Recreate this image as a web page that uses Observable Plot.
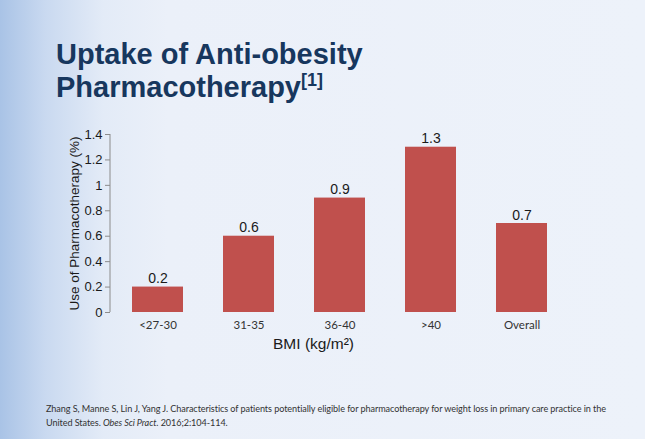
<!DOCTYPE html>
<html>
<head>
<meta charset="utf-8">
<script src="https://cdn.jsdelivr.net/npm/d3@7"></script>
<script src="https://cdn.jsdelivr.net/npm/@observablehq/plot@0.6"></script>
<style>
  html, body { margin: 0; padding: 0; }
  #page {
    position: relative; width: 645px; height: 439px; overflow: hidden;
    background: linear-gradient(to right, #a9c3e6 0%, #c9d9f0 7%, #e3ebf7 16%, #ebf0f9 26%, #edf2fa 100%);
    font-family: "Liberation Sans", Arial, sans-serif;
  }
  #title {
    position: absolute; left: 56px; top: 38px; margin: 0;
    font-size: 29px; font-weight: bold; line-height: 33px; color: #17375e;
  }
  #title sup { font-size: 18px; vertical-align: 11px; line-height: 0; }
  #chart { position: absolute; left: 0; top: 120px; }
  #caption {
    position: absolute; left: 46px; top: 402px; width: 590px;
    font-family: Lato, "Open Sans", sans-serif; font-size: 9.1px; line-height: 14px; color: #333;
    letter-spacing: -0.08px;
  }
  #caption div { white-space: nowrap; }
</style>
</head>
<body>
<div id="page">
  <h1 id="title">Uptake of Anti-obesity<br>Pharmacotherapy<sup>[1]</sup></h1>
  <div id="chart"></div>
  <div id="caption">
    <div>Zhang S, Manne S, Lin J, Yang J. Characteristics of patients potentially eligible for pharmacotherapy for weight loss in primary care practice in the</div>
    <div>United States. <i>Obes Sci Pract</i>. 2016;2:104-114.</div>
  </div>
</div>
<script>
const categories = ["<27-30", "31-35", "36-40", ">40", "Overall"];
const values = [0.2, 0.6, 0.9, 1.3, 0.7];
const yTicks = [0, 0.2, 0.4, 0.6, 0.8, 1, 1.2, 1.4];
const xLabel = "BMI (kg/m²)";
const yLabel = "Use of Pharmacotherapy (%)";

const data = categories.map((c, i) => ({category: c, value: values[i]}));

const chart = Plot.plot({
  width: 645,
  height: 240,
  marginLeft: 110,
  marginRight: 77,
  marginTop: 14,
  marginBottom: 48,
  style: {background: "transparent", overflow: "visible"},
  x: {domain: categories, paddingInner: 0.44, paddingOuter: 0.22, label: null},
  y: {domain: [0, 1.4], label: null},
  marks: [
    Plot.barY(data, {x: "category", y: "value", fill: "#c0504d"}),
    Plot.text(data, {x: "category", y: "value", text: d => String(d.value), lineAnchor: "bottom", dy: -4,
      fontSize: 14, fill: "#1a1a1a", fontFamily: "Liberation Sans, Arial, sans-serif"}),
    Plot.axisX({tickSize: 0, tickPadding: 8, fontSize: 11.5, fontFamily: "Lato, 'Open Sans', sans-serif", color: "#333", label: null}),
    Plot.axisY({ticks: yTicks, tickFormat: d => String(d), tickSize: 5, tickPadding: 3, fontSize: 13,
      fontFamily: "Liberation Sans, Arial, sans-serif", color: "#1a1a1a", stroke: "#8c8c8c", label: null}),
    Plot.text([yLabel], {frameAnchor: "left", textAnchor: "middle", rotate: -90, dx: -36, fontSize: 13.5,
      fontFamily: "Liberation Sans, Arial, sans-serif", fill: "#1a1a1a"}),
    Plot.text([xLabel], {frameAnchor: "bottom", dx: -26, dy: 36, fontSize: 15.5,
      fontFamily: "Liberation Sans, Arial, sans-serif", fill: "#1a1a1a"})
  ]
});
document.getElementById("chart").appendChild(chart);

// y axis line drawn from the y scale
const ys = chart.scale("y");
d3.select(chart).append("line")
  .attr("x1", 110).attr("x2", 110)
  .attr("y1", ys.apply(0)).attr("y2", ys.apply(1.4))
  .attr("stroke", "#8c8c8c");
</script>
</body>
</html>
